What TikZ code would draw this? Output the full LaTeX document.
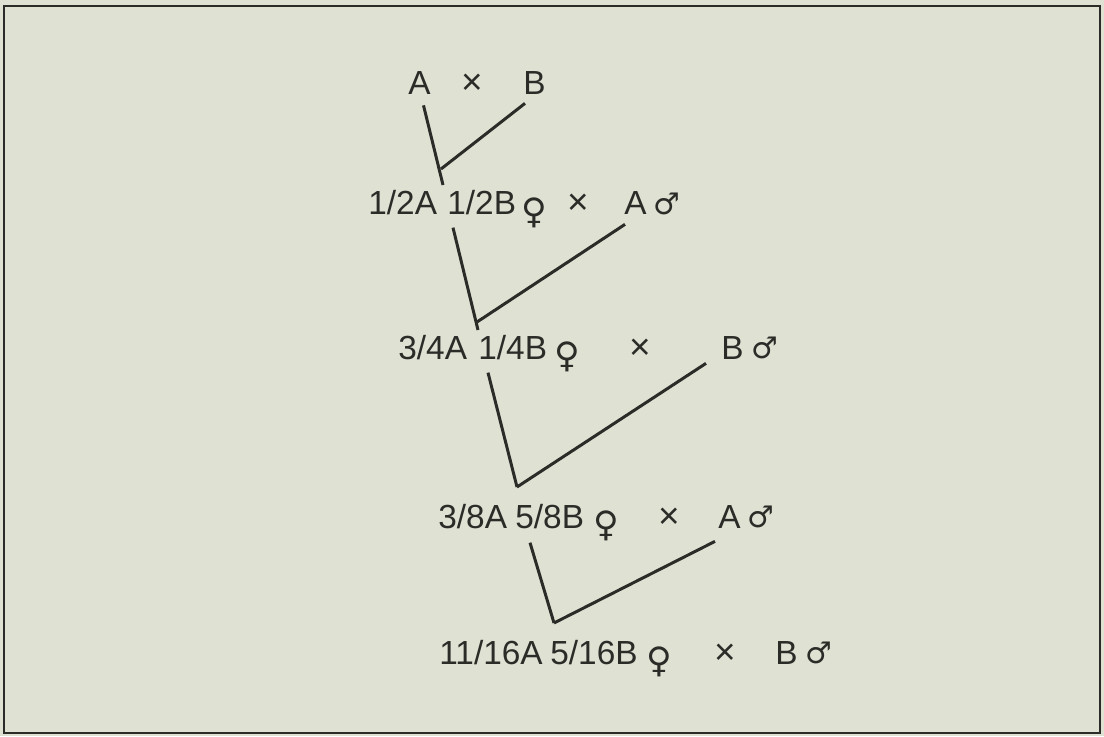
\documentclass[tikz,border=0pt]{standalone}
\usepackage{fontspec}
\setmainfont{Liberation Sans}
\newfontfamily\symfont{DejaVu Sans}
\definecolor{bg}{HTML}{DFE1D3}
\definecolor{ink}{HTML}{2B2B28}
\newcommand{\fem}{\raisebox{-5pt}{♀}}
\newcommand{\mal}{\raisebox{0.5pt}{\fontsize{17}{20}\selectfont ♂}}
\begin{document}
\begin{tikzpicture}[x=0.02cm,y=-0.02cm,
  lbl/.style={inner sep=0pt, anchor=base west, text=ink, font=\fontsize{19}{22}\selectfont},
  crs/.style={inner sep=0pt, anchor=base, text=ink, font=\fontsize{21}{24}\selectfont},
  sym/.style={inner sep=0pt, anchor=base west, text=ink, font=\symfont\fontsize{20}{24}\selectfont},
  link/.style={draw=ink, line width=1.7pt}]
\fill[bg] (0,0) rectangle (1104,736);
\draw[ink, line width=1.6pt] (4,6) rectangle (1100,733);
% row 1
\node[lbl] (a1) at (408,95) {A};
\node[crs] (x1) at (472,95) {×};
\node[lbl] (b1) at (523,95) {B};
% row 2
\node[lbl] (f2a) at (368,215) {1/2A};
\node[lbl] (f2b) at (447,215) {1/2B};
\node[sym] (fe2) at (521,215) {\fem};
\node[crs] (x2) at (578,215) {×};
\node[lbl] (m2) at (624,215) {A};
\node[sym] (ma2) at (653,215) {\mal};
% row 3
\node[lbl] (f3a) at (398,359) {3/4A};
\node[lbl] (f3b) at (478,359) {1/4B};
\node[sym] (fe3) at (554,359) {\fem};
\node[crs] (x3) at (640,359) {×};
\node[lbl] (m3) at (721,359) {B};
\node[sym] (ma3) at (751,359) {\mal};
% row 4
\node[lbl] (f4a) at (438,528) {3/8A};
\node[lbl] (f4b) at (515,528) {5/8B};
\node[sym] (fe4) at (593,528) {\fem};
\node[crs] (x4) at (669,528) {×};
\node[lbl] (m4) at (718,528) {A};
\node[sym] (ma4) at (747,528) {\mal};
% row 5
\node[lbl] (f5a) at (439,664) {11/16A};
\node[lbl] (f5b) at (550,664) {5/16B};
\node[sym] (fe5) at (646,664) {\fem};
\node[crs] (x5) at (725,664) {×};
\node[lbl] (m5) at (775,664) {B};
\node[sym] (ma5) at (805,664) {\mal};
% junctions
\coordinate (e1) at (443,185);
\coordinate (j1) at (441,169);
\coordinate (e2) at (478,330);
\coordinate (j2) at (477,322);
\coordinate (j3) at (517,487);
\coordinate (j4) at (554,623);
% connectors
\draw[link] ([shift={(4,10)}]a1.south) -- (e1);
\draw[link] ([shift={(2,8)}]b1.south west) -- (j1);
\draw[link] ([shift={(6,12)}]f2b.south west) -- (e2);
\draw[link] ([shift={(1,9)}]m2.south west) -- (j2);
\draw[link] ([shift={(10,13)}]f3b.south west) -- (j3);
\draw[link] ([shift={(-15,4)}]m3.south west) -- (j3);
\draw[link] ([shift={(15,14)}]f4b.south west) -- (j4);
\draw[link] ([shift={(-3,13)}]m4.south west) -- (j4);
\end{tikzpicture}
\end{document}
